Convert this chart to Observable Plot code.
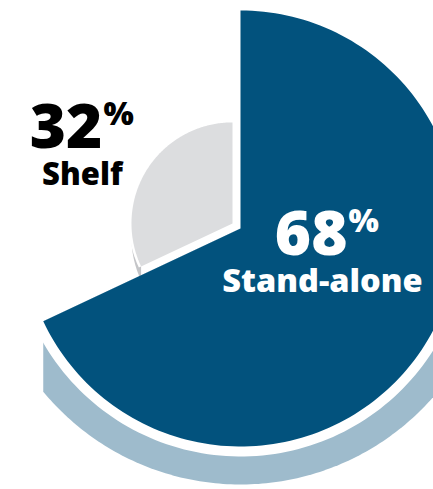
<!DOCTYPE html>
<html><head><meta charset="utf-8">
<script src="https://cdn.jsdelivr.net/npm/d3@7"></script>
<script src="https://cdn.jsdelivr.net/npm/@observablehq/plot@0.6"></script>
<style>html,body{margin:0;padding:0;background:#fff;overflow:hidden}</style>
</head><body><div id="chart"></div>
<script>
// ---- data ----
const categories = ["Stand-alone", "Shelf"];
const shares = [68, 32];
const percentLabels = ["68", "32"];
const percentSign = "%";
const topColors = ["#02527d", "#dcdddf"];
const sideColors = ["#9ebbcc", "#c4c5c8"];
const labelColors = ["#ffffff", "#000000"];

// ---- layout ----
const W = 433, H = 489;
const CX = 240, CY = 228;
const radius = [218, 101];
const explode = [0, 9.5];
const gap = [10, 2.5];
const sideOuter = 256;
const greyDrop = 14;
const labelAngleDeg = [108.2, 297.1];
const labelRadius = [86.3, 177.6];
const numberSize = [62, 62];
const percentSize = [32, 32];
const nameSize = [32.5, 31];
const numberEndDx = [25, 20];
const font = "'Open Sans', sans-serif";

const arcs = d3.pie().sort(null).value(d => d)(shares);
const pt = (c, r, a) => ({x: c.x + r * Math.sin(a), y: c.y - r * Math.cos(a)});
function arcPts(c, r, a0, a1, n = 160) {
  const out = [];
  for (let k = 0; k <= n; k++) out.push(pt(c, r, a0 + (a1 - a0) * k / n));
  return out;
}
const centers = arcs.map((a, i) => {
  const m = (a.startAngle + a.endAngle) / 2;
  return {x: CX + explode[i] * Math.sin(m), y: CY - explode[i] * Math.cos(m)};
});
const sector = (i, r) => [centers[i], ...arcPts(centers[i], r, arcs[i].startAngle, arcs[i].endAngle)];

// blue side face (lower rim)
const cb = centers[0];
const tipB = pt(cb, radius[0], arcs[0].endAngle);
const thetaClip = Math.PI + Math.asin((cb.x - tipB.x) / sideOuter);
const blueSide = [cb, ...arcPts(cb, sideOuter, Math.PI / 2, thetaClip), tipB];

// grey side sliver
const cg = centers[1];
const gArc = arcPts(cg, radius[1], arcs[1].startAngle, 1.5 * Math.PI, 60);
const greySide = [...gArc, ...gArc.slice().reverse().map(p => ({x: p.x, y: p.y + greyDrop}))];

const toRows = (pts, id) => pts.map((p, k) => ({id, k, x: p.x, y: p.y}));
const poly = (pts, fill) => Plot.line(toRows(pts, "p"), {x: "x", y: "y", z: "id", fill, stroke: "none", curve: "linear-closed"});

// label anchors
const anchors = arcs.map((a, i) => {
  const t = labelAngleDeg[i] * Math.PI / 180;
  return {x: CX + labelRadius[i] * Math.sin(t), y: CY - labelRadius[i] * Math.cos(t)};
});
const idx = d3.range(categories.length);

const chart = Plot.plot({
  width: W, height: H, margin: 0,
  style: {background: "#fff"},
  x: {domain: [0, W], range: [0, W], axis: null},
  y: {domain: [0, H], range: [0, H], axis: null},
  marks: [
    poly(blueSide, sideColors[0]),
    poly(sector(0, radius[0] + gap[0]), "#ffffff"),
    poly(greySide, sideColors[1]),
    poly(sector(1, radius[1] + gap[1]), "#ffffff"),
    poly(sector(1, radius[1]), topColors[1]),
    poly(sector(0, radius[0]), topColors[0]),
    Plot.text(idx, {x: i => anchors[i].x + numberEndDx[i], y: i => anchors[i].y, text: i => percentLabels[i],
      textAnchor: "end", lineAnchor: "bottom", fill: i => labelColors[i], fontSize: i => numberSize[i]}),
    Plot.text(idx, {x: i => anchors[i].x + numberEndDx[i] + 1, y: i => anchors[i].y - 23, text: () => percentSign,
      textAnchor: "start", lineAnchor: "bottom", fill: i => labelColors[i], fontSize: i => percentSize[i]}),
    Plot.text(idx, {x: i => anchors[i].x, y: i => anchors[i].y + 37, text: i => categories[i],
      textAnchor: "middle", lineAnchor: "bottom", fill: i => labelColors[i], fontSize: i => nameSize[i]})
  ]
});
d3.select(chart).selectAll("text").attr("font-family", font).attr("font-weight", 800);
d3.select(chart).selectAll("g[aria-label='text']").attr("font-family", font).attr("font-weight", 800);
document.getElementById("chart").append(chart);
</script>
</body></html>
